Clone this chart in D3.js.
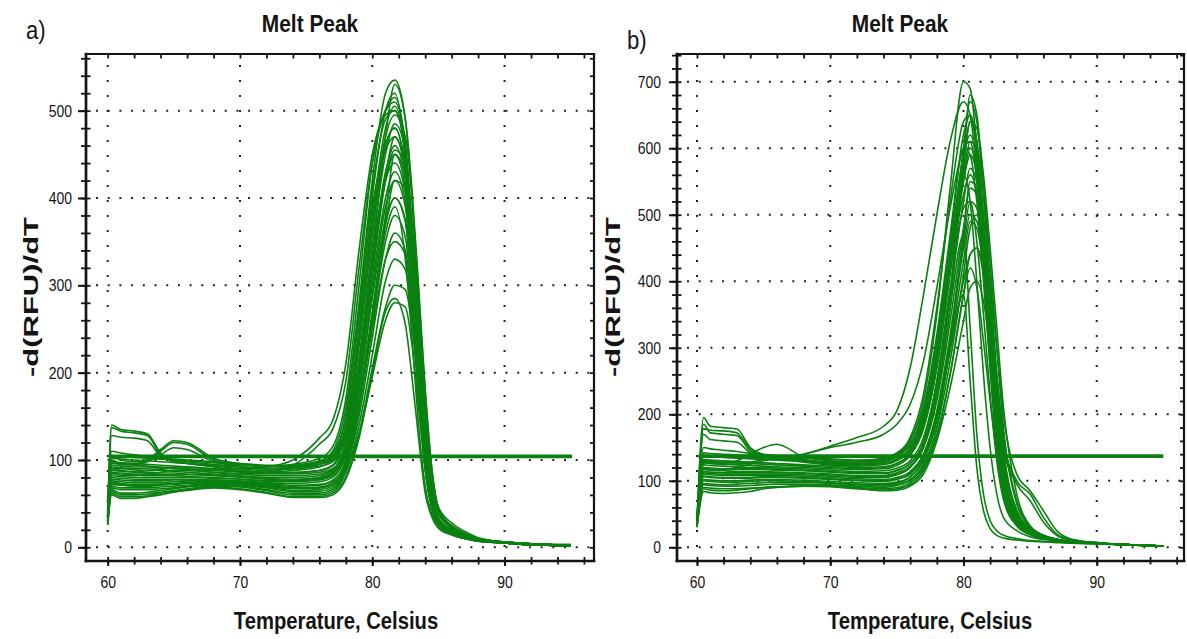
<!DOCTYPE html>
<html>
<head>
<meta charset="utf-8">
<script src="https://cdn.jsdelivr.net/npm/d3@7"></script>
<style>
    body { margin: 0; background: #fff; }
    svg text { font-family: "Liberation Sans", Arial, sans-serif; fill: #141414; }
</style>
</head>
<body>
<div id="wrapper"></div>
<script>
// temperatures (Celsius) at which each melt curve is sampled
const tempsA = [60, 60.3, 61, 62, 63, 64, 65, 66, 68, 70, 72, 74, 76, 77, 78, 79, 80, 81, 81.7, 82.5, 83, 83.5, 84, 84.5, 85, 86, 87, 88, 90, 92, 95]
const tempsB = [60, 60.5, 61, 62, 63, 64, 65, 66, 68, 70, 72, 74, 75, 76, 77, 78, 79, 80, 80.5, 81, 81.5, 82, 82.5, 83, 84, 85, 86, 87, 88, 90, 92, 95]

// -d(RFU)/dT read off panel a), one row per well
const curvesA = [
    [40, 140, 135, 133, 130, 108, 100, 98, 95, 92, 90, 92, 98, 110, 160, 280, 420, 520, 535, 490, 410, 300, 180, 90, 45, 24, 15, 10, 6, 4, 3],
    [35, 128, 126, 125, 122, 104, 98, 96, 92, 88, 86, 88, 92, 100, 140, 250, 380, 480, 505, 450, 350, 225, 110, 55, 32, 18, 12, 8, 6, 4, 2],
    [50, 105, 100, 98, 100, 110, 120, 118, 100, 95, 92, 95, 102, 115, 170, 300, 440, 500, 510, 460, 360, 235, 115, 58, 32, 19, 12, 9, 6, 4, 2],
    [45, 98, 95, 95, 98, 106, 114, 112, 98, 93, 90, 92, 97, 105, 150, 270, 410, 490, 500, 455, 355, 230, 112, 56, 31, 18, 12, 8, 6, 4, 2],
    [30, 90, 88, 87, 88, 90, 92, 92, 90, 90, 92, 100, 125, 145, 210, 340, 450, 495, 500, 445, 345, 220, 108, 54, 30, 18, 12, 8, 5, 4, 2],
    [28, 85, 82, 82, 84, 86, 88, 88, 86, 84, 86, 94, 118, 135, 190, 320, 440, 500, 515, 460, 360, 230, 112, 56, 31, 18, 12, 8, 6, 4, 2],
    [40, 105, 104, 103, 102, 101, 100, 99, 97, 95, 93, 92, 95, 100, 130, 230, 360, 460, 480, 430, 335, 215, 105, 52, 30, 17, 11, 8, 5, 3, 2],
    [38, 98, 97, 96, 95, 94, 93, 92, 90, 88, 86, 86, 88, 93, 120, 210, 330, 430, 460, 420, 330, 212, 104, 52, 30, 17, 11, 8, 5, 3, 2],
    [36, 90, 90, 89, 88, 88, 87, 86, 84, 82, 80, 80, 82, 88, 115, 200, 320, 420, 450, 410, 320, 210, 102, 50, 29, 17, 11, 8, 5, 3, 2],
    [33, 84, 84, 83, 82, 82, 82, 81, 80, 78, 76, 76, 78, 84, 110, 190, 300, 400, 430, 395, 310, 205, 100, 50, 28, 16, 11, 8, 5, 3, 2],
    [32, 80, 79, 78, 78, 78, 78, 78, 77, 76, 74, 73, 75, 80, 105, 180, 290, 390, 420, 390, 305, 200, 98, 48, 28, 16, 11, 8, 5, 3, 2],
    [30, 76, 75, 74, 74, 74, 75, 76, 76, 75, 72, 70, 71, 76, 100, 170, 270, 370, 400, 372, 292, 192, 96, 48, 27, 16, 11, 8, 5, 3, 2],
    [30, 72, 71, 70, 70, 71, 72, 73, 74, 73, 70, 67, 68, 72, 95, 160, 255, 350, 380, 355, 280, 185, 94, 47, 27, 16, 11, 8, 5, 3, 2],
    [28, 68, 66, 66, 66, 67, 68, 70, 72, 71, 68, 64, 64, 68, 90, 150, 240, 330, 360, 340, 270, 180, 92, 46, 26, 15, 10, 7, 5, 3, 2],
    [27, 64, 60, 60, 61, 63, 65, 67, 70, 69, 65, 60, 60, 64, 85, 140, 220, 305, 330, 318, 258, 172, 90, 45, 26, 15, 10, 7, 5, 3, 2],
    [26, 60, 56, 56, 58, 60, 63, 65, 68, 66, 62, 57, 57, 60, 78, 125, 200, 270, 285, 255, 195, 125, 62, 35, 22, 14, 10, 7, 5, 3, 2],
    [30, 74, 73, 72, 72, 72, 73, 74, 75, 74, 71, 68, 68, 72, 90, 130, 195, 260, 280, 275, 232, 160, 88, 45, 25, 15, 10, 7, 5, 3, 2],
    [35, 94, 93, 92, 92, 91, 90, 89, 88, 86, 84, 84, 86, 90, 110, 190, 330, 470, 530, 490, 400, 270, 140, 68, 38, 22, 14, 10, 6, 4, 3],
    [34, 88, 87, 86, 86, 85, 85, 84, 83, 81, 79, 78, 80, 86, 118, 205, 325, 425, 470, 430, 340, 222, 110, 54, 30, 17, 11, 8, 5, 3, 2],
    [38, 102, 101, 100, 99, 98, 97, 96, 94, 92, 90, 90, 93, 98, 125, 215, 330, 420, 440, 405, 320, 210, 102, 51, 29, 17, 11, 8, 5, 3, 2],
    [29, 70, 68, 68, 68, 69, 70, 71, 73, 72, 69, 65, 66, 70, 92, 160, 260, 380, 450, 425, 340, 225, 112, 56, 31, 18, 12, 8, 5, 3, 2],
    [31, 82, 81, 80, 80, 80, 80, 80, 79, 78, 76, 75, 77, 82, 105, 180, 285, 375, 400, 375, 295, 195, 97, 48, 27, 16, 11, 8, 5, 3, 2],
    [30, 78, 77, 76, 76, 76, 77, 77, 77, 76, 73, 71, 72, 77, 98, 165, 250, 330, 350, 335, 268, 180, 93, 47, 27, 16, 11, 8, 5, 3, 2],
    [38, 137, 133, 131, 128, 106, 99, 96, 93, 90, 88, 90, 95, 103, 135, 235, 360, 460, 480, 435, 340, 222, 108, 53, 30, 17, 11, 8, 5, 3, 2],
    [42, 110, 108, 106, 104, 102, 101, 100, 98, 96, 94, 94, 97, 104, 140, 240, 370, 470, 495, 470, 400, 290, 180, 90, 45, 24, 15, 10, 6, 4, 2],
    [27, 66, 62, 62, 63, 65, 67, 69, 71, 70, 66, 62, 62, 66, 90, 160, 260, 360, 390, 330, 240, 140, 70, 38, 24, 15, 10, 7, 5, 3, 2],
    [33, 86, 85, 84, 84, 83, 83, 83, 82, 80, 78, 77, 79, 85, 112, 195, 310, 420, 455, 440, 370, 270, 170, 85, 42, 22, 14, 9, 6, 4, 2],
    [37, 96, 95, 94, 93, 92, 91, 90, 89, 87, 85, 85, 88, 94, 135, 250, 400, 500, 520, 440, 320, 190, 90, 46, 28, 17, 11, 8, 5, 3, 2],
    [30, 74, 72, 71, 71, 72, 73, 74, 75, 74, 71, 68, 69, 74, 95, 165, 265, 370, 420, 410, 350, 260, 165, 85, 42, 22, 14, 9, 6, 4, 2],
    [26, 62, 58, 58, 59, 62, 64, 66, 69, 67, 63, 58, 58, 62, 80, 130, 205, 275, 300, 295, 255, 195, 130, 70, 40, 25, 16, 10, 6, 4, 2],
    [35, 92, 91, 90, 90, 89, 88, 88, 86, 84, 82, 82, 84, 89, 120, 215, 345, 450, 485, 455, 370, 255, 150, 80, 46, 28, 18, 11, 6, 4, 2],
    [48, 100, 96, 96, 100, 112, 122, 120, 102, 96, 93, 94, 99, 108, 150, 265, 390, 455, 470, 430, 345, 235, 125, 62, 34, 20, 13, 9, 6, 4, 2]
]

// -d(RFU)/dT read off panel b)
const curvesB = [
    [40, 195, 182, 180, 178, 150, 140, 138, 132, 128, 126, 130, 138, 160, 220, 350, 540, 700, 690, 600, 450, 290, 160, 85, 38, 22, 15, 11, 8, 6, 4, 2],
    [38, 185, 172, 170, 168, 145, 138, 136, 130, 126, 124, 126, 132, 148, 190, 290, 440, 580, 640, 610, 500, 360, 220, 120, 45, 24, 16, 11, 8, 6, 4, 2],
    [36, 170, 162, 160, 158, 142, 136, 134, 128, 124, 122, 124, 130, 145, 185, 280, 420, 550, 600, 570, 470, 340, 210, 115, 44, 24, 16, 11, 8, 6, 4, 2],
    [40, 130, 128, 127, 130, 140, 150, 155, 136, 130, 128, 132, 140, 165, 230, 360, 520, 640, 650, 590, 460, 310, 180, 95, 40, 23, 15, 11, 8, 6, 4, 2],
    [35, 128, 126, 125, 125, 128, 132, 134, 140, 152, 165, 182, 205, 270, 380, 500, 610, 670, 650, 560, 420, 270, 145, 78, 34, 20, 14, 10, 8, 6, 4, 2],
    [36, 120, 118, 118, 120, 125, 130, 134, 140, 150, 158, 170, 185, 215, 280, 390, 510, 600, 610, 550, 430, 290, 160, 85, 36, 21, 14, 10, 8, 6, 4, 2],
    [40, 142, 141, 140, 139, 138, 137, 136, 134, 132, 130, 132, 138, 155, 200, 300, 450, 590, 620, 580, 470, 330, 200, 110, 42, 23, 15, 11, 8, 6, 4, 2],
    [38, 132, 131, 130, 129, 128, 127, 126, 124, 122, 120, 121, 126, 140, 180, 270, 410, 550, 590, 560, 460, 330, 200, 110, 43, 23, 15, 11, 8, 6, 4, 2],
    [37, 124, 123, 122, 121, 120, 120, 119, 118, 116, 114, 115, 119, 130, 165, 250, 380, 520, 570, 550, 460, 340, 215, 120, 46, 24, 16, 11, 8, 6, 4, 2],
    [36, 117, 116, 115, 114, 114, 114, 113, 112, 110, 108, 108, 112, 122, 150, 220, 340, 480, 540, 530, 460, 360, 250, 160, 100, 80, 45, 20, 12, 7, 4, 2],
    [35, 110, 109, 108, 108, 108, 108, 108, 107, 105, 103, 102, 105, 114, 140, 205, 320, 460, 520, 510, 440, 330, 210, 120, 46, 24, 16, 11, 8, 6, 4, 2],
    [34, 102, 101, 100, 100, 101, 102, 102, 101, 99, 97, 96, 98, 106, 130, 190, 300, 430, 490, 480, 420, 320, 210, 120, 48, 25, 16, 11, 8, 6, 4, 2],
    [33, 96, 95, 94, 95, 96, 97, 98, 98, 96, 94, 92, 95, 102, 125, 180, 300, 380, 250, 120, 55, 28, 18, 14, 11, 9, 8, 7, 6, 5, 4, 2],
    [32, 90, 89, 88, 88, 89, 90, 91, 92, 92, 90, 88, 90, 97, 118, 170, 260, 380, 440, 450, 410, 330, 230, 140, 55, 28, 17, 12, 9, 6, 4, 2],
    [30, 84, 82, 81, 82, 84, 88, 90, 92, 92, 89, 85, 86, 92, 110, 160, 240, 340, 390, 400, 370, 300, 210, 130, 52, 27, 17, 12, 9, 6, 4, 2],
    [38, 127, 126, 125, 124, 123, 122, 121, 120, 118, 117, 118, 123, 138, 178, 270, 420, 600, 670, 640, 530, 380, 230, 125, 46, 24, 16, 11, 8, 6, 4, 2],
    [39, 137, 136, 135, 134, 133, 132, 131, 129, 126, 124, 126, 132, 150, 195, 290, 420, 530, 560, 530, 440, 320, 200, 110, 42, 23, 15, 11, 8, 6, 4, 2],
    [37, 120, 119, 118, 118, 118, 118, 117, 116, 114, 112, 112, 116, 126, 155, 230, 360, 580, 680, 650, 540, 400, 260, 150, 55, 28, 17, 12, 9, 6, 4, 2],
    [35, 107, 106, 105, 105, 105, 106, 106, 105, 103, 101, 100, 103, 112, 138, 200, 310, 450, 500, 490, 430, 340, 240, 150, 95, 70, 38, 18, 11, 7, 4, 2],
    [36, 114, 113, 112, 112, 112, 112, 112, 111, 109, 107, 107, 110, 120, 150, 230, 360, 470, 330, 170, 80, 40, 25, 18, 13, 10, 9, 8, 7, 5, 4, 2],
    [34, 100, 99, 98, 98, 99, 100, 100, 99, 97, 95, 94, 97, 106, 132, 195, 310, 470, 550, 540, 470, 360, 240, 140, 52, 26, 16, 11, 8, 6, 4, 2],
    [40, 150, 148, 146, 144, 141, 139, 137, 135, 133, 131, 134, 142, 162, 210, 320, 470, 620, 650, 610, 490, 340, 200, 105, 40, 22, 15, 11, 8, 6, 4, 2],
    [38, 130, 129, 128, 127, 126, 125, 124, 122, 120, 118, 120, 126, 142, 185, 280, 420, 570, 640, 630, 560, 450, 330, 210, 80, 32, 18, 12, 8, 6, 4, 2],
    [35, 112, 111, 110, 110, 110, 110, 110, 109, 107, 105, 105, 109, 120, 155, 240, 380, 560, 520, 400, 260, 150, 80, 45, 25, 16, 12, 10, 8, 6, 4, 2],
    [32, 94, 93, 92, 92, 93, 94, 95, 95, 94, 92, 90, 93, 100, 122, 180, 280, 410, 480, 500, 470, 400, 300, 200, 110, 85, 55, 25, 13, 7, 4, 2],
    [39, 138, 137, 136, 135, 134, 133, 132, 130, 128, 126, 129, 136, 155, 205, 310, 460, 600, 590, 520, 400, 270, 160, 90, 40, 22, 15, 11, 8, 6, 4, 2],
    [34, 106, 105, 104, 104, 104, 105, 105, 104, 102, 100, 99, 102, 110, 135, 195, 295, 400, 440, 450, 420, 350, 260, 170, 70, 32, 18, 12, 8, 6, 4, 2],
    [36, 119, 118, 117, 117, 117, 117, 116, 115, 113, 111, 111, 115, 126, 160, 250, 390, 510, 520, 460, 350, 230, 130, 72, 32, 19, 13, 10, 8, 6, 4, 2],
    [31, 88, 86, 85, 86, 88, 90, 91, 92, 91, 88, 86, 88, 94, 115, 165, 260, 380, 420, 390, 310, 220, 140, 80, 36, 20, 14, 10, 8, 6, 4, 2],
    [38, 178, 176, 175, 172, 148, 139, 137, 131, 127, 125, 127, 133, 150, 195, 290, 430, 560, 610, 600, 540, 430, 300, 180, 65, 30, 18, 12, 8, 6, 4, 2]
]

// flat threshold trace drawn across each plot
const thresholdTempsA = [60.2, 95.1]
const thresholdValsA = [104, 104]
const thresholdTempsB = [60.1, 95]
const thresholdValsB = [137, 137]

const xTicks = [60, 70, 80, 90]
const yTicksA = [0, 100, 200, 300, 400, 500]
const yTicksB = [0, 100, 200, 300, 400, 500, 600, 700]
const titleText = 'Melt Peak'
const xLabelText = 'Temperature, Celsius'
const yLabelText = '-d(RFU)/dT'
const panelTags = ['a)', 'b)']

const green = '#0a8010'
const ink = '#141414'

const panels = [
    {
        tag: panelTags[0], temps: tempsA, curves: curvesA, yTicks: yTicksA,
        thrT: thresholdTempsA, thrV: thresholdValsA,
        left: 86, right: 594, top: 54, bottom: 561,
        xDomain: [58.36, 96.76], yDomain: [-15.7, 564.9],
        tagX: 26, tagY: 39, titleX: 310, yLabelX: 31, xLabelX: 336, yLabelGap: 14
    },
    {
        tag: panelTags[1], temps: tempsB, curves: curvesB, yTicks: yTicksB,
        thrT: thresholdTempsB, thrV: thresholdValsB,
        left: 677, right: 1184, top: 54, bottom: 561,
        xDomain: [58.5, 96.55], yDomain: [-20.6, 741.7],
        tagX: 627, tagY: 49, titleX: 900, yLabelX: 613, xLabelX: 930, yLabelGap: 16
    }
]

const svg = d3.select('#wrapper').append('svg')
    .attr('width', 1187)
    .attr('height', 639)

// squeeze (or stretch) text along its run so it matches the narrow lettering
function squeeze(sel, factor) {
    sel.each(function () {
        const w = this.getComputedTextLength()
        d3.select(this).attr('textLength', w * factor).attr('lengthAdjust', 'spacingAndGlyphs')
    })
}

panels.forEach((p, i) => {
    const g = svg.append('g')

    const xScale = d3.scaleLinear().domain(p.xDomain).range([p.left, p.right])
    const yScale = d3.scaleLinear().domain(p.yDomain).range([p.bottom, p.top])

    const xMinor = d3.range(60, 97, 2)
    const yMinor = d3.range(0, p.yDomain[1], 20)

    // dotted grid
    g.append('g').selectAll('line')
        .data(xTicks)
        .join('line')
        .attr('x1', d => xScale(d)).attr('x2', d => xScale(d))
        .attr('y1', p.top + 11).attr('y2', p.bottom)
        .attr('stroke', '#222').attr('stroke-width', 2)
        .attr('stroke-dasharray', '2,13')
    g.append('g').selectAll('line')
        .data(p.yTicks)
        .join('line')
        .attr('x1', p.left + 10).attr('x2', p.right)
        .attr('y1', d => yScale(d)).attr('y2', d => yScale(d))
        .attr('stroke', '#222').attr('stroke-width', 2)
        .attr('stroke-dasharray', '2,9.7')

    // curves
    const clipId = 'clip' + i
    svg.append('clipPath').attr('id', clipId)
        .append('rect')
        .attr('x', p.left).attr('y', p.top)
        .attr('width', p.right - p.left).attr('height', p.bottom - p.top)

    const line = d3.line()
        .x(d => xScale(d[0]))
        .y(d => yScale(d[1]))
        .curve(d3.curveMonotoneX)

    const plot = g.append('g').attr('clip-path', `url(#${clipId})`)
    plot.selectAll('path.curve')
        .data(p.curves)
        .join('path')
        .attr('class', 'curve')
        .attr('d', vals => line(vals.map((v, k) => [p.temps[k], v])))
        .attr('fill', 'none')
        .attr('stroke', green)
        .attr('stroke-width', 1.6)

    plot.append('path')
        .attr('d', line(p.thrT.map((t, k) => [t, p.thrV[k]])))
        .attr('fill', 'none')
        .attr('stroke', green)
        .attr('stroke-width', 3.8)

    // ticks: outward + inward on left and bottom, inward on top and right
    const tickStyle = (sel, w) => {
        sel.select('.domain').remove()
        sel.selectAll('.tick line').attr('stroke', ink).attr('stroke-width', w)
    }
    g.append('g').attr('transform', `translate(${p.left},0)`)
        .call(d3.axisLeft(yScale).tickValues(yMinor).tickSize(5).tickFormat(''))
        .call(s => tickStyle(s, 1.8))
    g.append('g').attr('transform', `translate(${p.left},0)`)
        .call(d3.axisRight(yScale).tickValues(yMinor).tickSize(4.5).tickFormat(''))
        .call(s => tickStyle(s, 1.8))
    const yMajor = g.append('g').attr('transform', `translate(${p.left},0)`)
        .call(d3.axisLeft(yScale).tickValues(p.yTicks).tickSize(8).tickPadding(p.yLabelGap - 8))
        .call(s => tickStyle(s, 2))
    g.append('g').attr('transform', `translate(${p.right},0)`)
        .call(d3.axisLeft(yScale).tickValues(yMinor).tickSize(4).tickFormat(''))
        .call(s => tickStyle(s, 1.8))

    g.append('g').attr('transform', `translate(0,${p.bottom})`)
        .call(d3.axisBottom(xScale).tickValues(xMinor).tickSize(3.5).tickFormat(''))
        .call(s => tickStyle(s, 1.8))
    g.append('g').attr('transform', `translate(0,${p.bottom})`)
        .call(d3.axisTop(xScale).tickValues(xMinor).tickSize(4).tickFormat(''))
        .call(s => tickStyle(s, 1.8))
    const xMajor = g.append('g').attr('transform', `translate(0,${p.bottom})`)
        .call(d3.axisBottom(xScale).tickValues(xTicks).tickSize(5).tickPadding(10))
        .call(s => tickStyle(s, 2))
    g.append('g').attr('transform', `translate(0,${p.top})`)
        .call(d3.axisBottom(xScale).tickValues(xMinor).tickSize(4.5).tickFormat(''))
        .call(s => tickStyle(s, 1.8))

    for (const ax of [xMajor, yMajor]) {
        ax.selectAll('text')
            .attr('fill', ink)
            .style('font-size', '17px')
            .style('font-family', '"Liberation Sans", Arial, sans-serif')
        squeeze(ax.selectAll('text'), 0.82)
    }

    // frame
    const frame = [
        [p.left, p.top, p.right, p.top, 2.2],
        [p.right, p.top, p.right, p.bottom, 2.2],
        [p.left, p.bottom, p.right, p.bottom, 2.7],
        [p.left, p.top, p.left, p.bottom, 2.7]
    ]
    g.append('g').selectAll('line')
        .data(frame)
        .join('line')
        .attr('x1', d => d[0]).attr('y1', d => d[1])
        .attr('x2', d => d[2]).attr('y2', d => d[3])
        .attr('stroke', ink).attr('stroke-width', d => d[4])
        .attr('stroke-linecap', 'square')

    // texts
    const tag = g.append('text')
        .attr('x', p.tagX).attr('y', p.tagY)
        .style('font-size', '26px')
        .text(p.tag)
    squeeze(tag, 0.85)

    const title = g.append('text')
        .attr('x', p.titleX).attr('y', 32)
        .attr('text-anchor', 'middle')
        .style('font-size', '24px').style('font-weight', 'bold')
        .text(titleText)
    squeeze(title, 0.87)

    const xLab = g.append('text')
        .attr('x', p.xLabelX).attr('y', 629)
        .attr('text-anchor', 'middle')
        .style('font-size', '23px').style('font-weight', 'bold')
        .text(xLabelText)
    squeeze(xLab, 0.88)

    const yLab = g.append('text')
        .attr('transform', `translate(${p.yLabelX + 7},297) rotate(-90)`)
        .attr('text-anchor', 'middle')
        .style('font-size', '20px').style('font-weight', 'bold')
        .text(yLabelText)
    squeeze(yLab, 1.55)
})
</script>
</body>
</html>
